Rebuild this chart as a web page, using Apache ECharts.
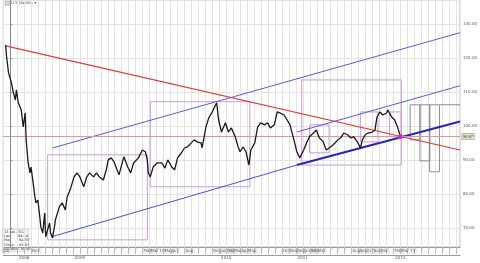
<!DOCTYPE html>
<html>
<head>
<meta charset="utf-8">
<style>
  html, body { margin: 0; padding: 0; background: #fff; }
  #main { width: 480px; height: 263px; }
</style>
<script src="https://cdn.jsdelivr.net/npm/echarts@6/dist/echarts.min.js"></script>
</head>
<body>
<div id="main"></div>
<script>
// price path: [month index, close]
const closes = [
  [-0.66,123.8],[-0.52,120.3],[-0.24,115.6],[0.18,112.6],[0.46,109.7],[0.74,107.6],[0.88,110.6],[1.16,106.8],
  [1.58,104.7],[1.87,99.7],[2.15,103.8],[2.29,95.9],[2.57,89.1],[2.85,86.2],[2.99,87.9],[3.55,79.1],
  [3.69,77.4],[3.97,78.2],[4.25,73.2],[4.39,70.3],[4.67,68.5],[4.95,74.4],[5.09,67.4],[5.65,71.5],
  [5.79,68.5],[6.07,67.1],[6.35,70.3],[6.49,72.4],[7.05,76.2],[7.47,77.4],[7.90,75.3],[8.18,79.1],
  [8.60,81.2],[9.16,85.0],[9.58,86.2],[10.00,85.0],[10.56,82.1],[10.98,85.0],[11.40,86.2],[11.96,85.0],
  [12.38,86.2],[12.80,85.0],[13.37,84.1],[13.79,87.1],[14.07,90.0],[14.49,90.6],[14.91,89.4],[15.19,89.1],
  [15.61,85.6],[16.31,90.9],[16.87,87.9],[17.29,86.2],[17.71,89.1],[18.41,90.6],[18.97,92.9],[19.40,92.4],
  [19.68,90.0],[19.82,86.2],[20.10,85.0],[20.52,87.9],[21.08,89.1],[21.78,89.1],[22.20,87.6],[22.62,90.0],
  [23.18,87.9],[23.60,87.1],[24.02,90.6],[24.58,92.1],[25.01,93.5],[25.43,93.8],[25.99,95.0],[26.41,95.9],
  [26.83,95.3],[27.39,95.0],[27.53,93.5],[27.81,96.5],[28.09,99.7],[28.51,102.4],[28.93,103.8],[29.49,106.2],
  [29.63,106.8],[29.91,101.8],[30.33,98.2],[30.89,100.9],[31.32,98.2],[31.74,99.4],[32.30,96.8],[32.72,93.8],
  [33.00,92.4],[33.42,93.8],[33.84,92.4],[34.26,88.5],[34.54,92.9],[35.10,95.0],[35.52,99.7],[35.95,100.9],
  [36.51,100.3],[36.93,100.9],[37.35,99.4],[37.91,100.3],[38.33,104.1],[38.75,103.8],[39.31,103.2],[39.73,101.8],
  [40.16,100.3],[40.72,95.9],[41.14,92.4],[41.56,90.6],[42.12,92.9],[42.54,95.0],[42.96,96.8],[43.52,97.9],
  [43.94,98.8],[44.36,96.5],[44.93,95.3],[45.35,92.9],[45.77,93.5],[46.33,94.4],[47.03,95.9],[47.45,96.5],
  [47.87,97.9],[48.43,97.4],[48.86,96.5],[49.28,96.8],[49.84,95.3],[50.26,93.5],[50.54,95.9],[50.96,97.4],
  [51.38,97.9],[51.94,98.2],[52.36,98.8],[52.64,102.6],[53.06,104.1],[53.48,103.2],[54.04,103.8],[54.18,104.7],
  [54.75,102.6],[55.17,101.8],[55.59,99.7],[56.01,96.87]
];

const lastPrice = 96.87;

// trend lines: [[m1, v1], [m2, v2]]
const redTrend = [[-0.66, 123.5], [64.56, 92.9]];
const upperChannel = [[6.07, 93.5], [64.56, 127.4]];
const midChannel = [[41.14, 98.2], [64.56, 111.8]];
const lowerThin = [[5.93, 67.4], [41.14, 88.5]];
const lowerThick = [[41.14, 88.5], [64.56, 101.3]];

// boxes: [m1, top, m2, bottom]
const pinkBoxes = [
  [5.37, 91.5, 19.68, 66.5],
  [20.10, 107.1, 34.40, 82.1],
  [41.84, 113.5, 56.14, 88.5],
  [42.96, 100.3, 45.77, 92.1],
  [50.26, 104.1, 52.78, 95.3],
  [54.46, 104.1, 56.14, 96.8]
];
const grayBoxes = [
  [57.41, 106.2, 58.81, 95.9],
  [58.81, 106.2, 60.21, 89.7],
  [60.21, 106.2, 61.61, 86.5]
];
const grayTop = [[61.61, 106.2], [64.56, 106.2]];

// axis labels
const monthTicks = [-1, 0, 3, 19, 20, 22, 23, 25, 29, 30, 31, 32, 33, 34, 39, 40, 41, 42, 43, 44, 49, 50, 51, 52, 53, 55, 56];
const monthLabels = ['Jul', 'Aug 08', 'Nov', 'Feb', 'Mar 10', 'May', 'Jun', 'Aug', 'Dec', 'Jan 11', 'Feb', 'Mar', 'Apr', 'May', 'Oct', 'Nov', 'Dec', 'Jan 12', 'Feb', 'Mar', 'Aug', 'Sep', 'Oct', 'Nov', 'Dec', 'Feb', 'Mar 13'];
const yearTicks = [2, 10, 31, 42, 56];
const yearLabels = ['2008', '2009', '2010', '2011', '2012'];

const infoLines = ['13-Jan-2012', 'Last      94.54', 'Max       94.83', 'Close     93.07', 'Variation 94.95'];

const chart = echarts.init(document.getElementById('main'));

function seg(points, color, width) {
  return {
    type: 'line', data: points, symbol: 'none', silent: true,
    lineStyle: { color: color, width: width }, z: 4
  };
}

function boxAreas(list) {
  return list.map(b => [{ coord: [b[0], b[1]] }, { coord: [b[2], b[3]] }]);
}

const tinyFont = { fontSize: 4, color: '#555', fontFamily: 'DejaVu Sans' };

const option = {
  animation: false,
  backgroundColor: '#fff',
  grid: { left: -0.43, right: 13, top: 0, bottom: 16, show: true, borderColor: '#bbb', borderWidth: 1 },
  xAxis: [
    {
      type: 'value', min: -1, max: 64.56, interval: 1,
      axisLine: { onZero: false, lineStyle: { color: '#999' } },
      axisTick: { show: true, inside: false, length: 7, lineStyle: { color: '#bbb' } },
      axisLabel: Object.assign({
        showMinLabel: true, showMaxLabel: false, align: 'left', margin: 2,
        borderColor: '#c4c4c4', borderWidth: 0.5, padding: [0, 1],
        formatter: v => { const i = monthTicks.indexOf(v); return i >= 0 ? monthLabels[i] : ''; }
      }, tinyFont),
      splitLine: { show: true, lineStyle: { color: '#e4e4e4', width: 1 } }
    },
    {
      type: 'value', min: -1, max: 64.56, interval: 1, position: 'bottom', offset: 8,
      axisLine: { onZero: false, lineStyle: { color: '#999' } },
      axisTick: { show: false },
      axisLabel: Object.assign({
        showMaxLabel: false, align: 'center', margin: 1,
        formatter: v => { const i = yearTicks.indexOf(v); return i >= 0 ? yearLabels[i] : ''; }
      }, tinyFont),
      splitLine: { show: false }
    }
  ],
  yAxis: {
    type: 'value', position: 'right', min: 64.4, max: 137, splitNumber: 7,
    axisLine: { show: true, lineStyle: { color: '#888' } },
    axisTick: { show: true, length: 2, lineStyle: { color: '#888' } },
    axisLabel: Object.assign({ showMinLabel: false, showMaxLabel: false, margin: 3, formatter: v => v.toFixed(2) }, tinyFont),
    splitLine: { show: true, lineStyle: { color: '#e4e4e4' } }
  },
  series: [
    {
      type: 'line', data: [], silent: true,
      markArea: { silent: true, itemStyle: { color: 'transparent', borderColor: '#cc9ad8', borderWidth: 1 }, data: boxAreas(pinkBoxes) }
    },
    {
      type: 'line', data: [], silent: true,
      markArea: { silent: true, itemStyle: { color: 'transparent', borderColor: '#8c8c8c', borderWidth: 1 }, data: boxAreas(grayBoxes) }
    },
    seg(grayTop, '#8c8c8c', 1),
    {
      type: 'line', data: [], silent: true,
      markLine: {
        silent: true, symbol: 'none',
        lineStyle: { color: '#d99a9a', width: 1, type: 'solid' },
        label: {
          show: true, position: 'end', distance: 2, formatter: () => lastPrice.toFixed(2),
          fontSize: 4, color: '#333', backgroundColor: '#e4e4cf', borderColor: '#888', borderWidth: 0.5, padding: [1, 1]
        },
        data: [{ yAxis: lastPrice }]
      }
    },
    seg(redTrend, '#d83b3b', 1.2),
    seg(upperChannel, '#5a5ad2', 1),
    seg(midChannel, '#5a5ad2', 1),
    seg(lowerThin, '#4d4dcc', 1),
    seg(lowerThick, '#2626b5', 2),
    {
      type: 'line', data: closes, symbol: 'none', silent: true,
      lineStyle: { color: '#1a1a1a', width: 1.3 }, z: 5
    },
    {
      type: 'scatter', data: [closes[closes.length - 1]], symbolSize: 5, silent: true,
      itemStyle: { color: '#e020e0' }, z: 6
    }
  ],
  graphic: [
    { type: 'rect', left: 5, top: 1, shape: { width: 4, height: 4 }, style: { fill: '#ddd', stroke: '#888', lineWidth: 0.5 } },
    { type: 'text', left: 11, top: 1, style: { text: 'LLY Quotes \u25be', fontSize: 4, fill: '#555', fontFamily: 'DejaVu Sans' } },
    { type: 'rect', left: 2, top: 229, shape: { width: 26, height: 22 }, style: { fill: '#fafafa', stroke: '#aaa', lineWidth: 0.5 } },
    {
      type: 'text', left: 4, top: 230,
      style: { text: infoLines.join('\n'), fontSize: 3.5, lineHeight: 4.2, fill: '#444', fontFamily: 'DejaVu Sans' }
    }
  ]
};

chart.setOption(option);
</script>
</body>
</html>
